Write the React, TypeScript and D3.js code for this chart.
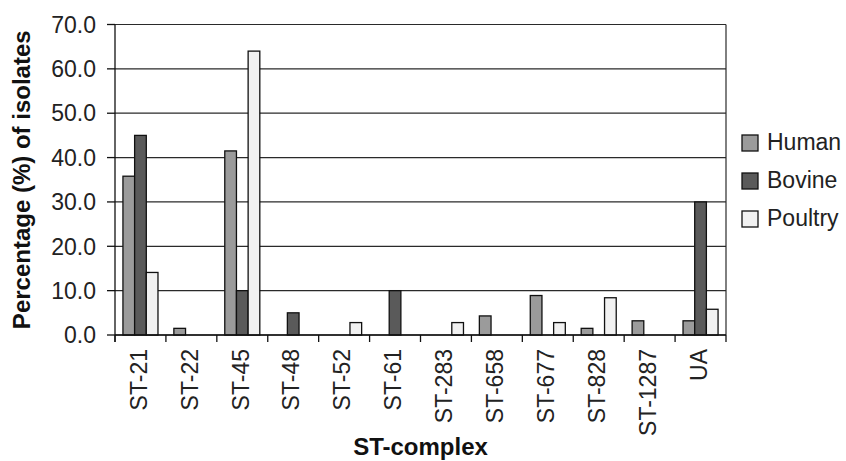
import React from 'react';
import * as d3 from 'd3';

// ST-complex categories and percentages
const categories = ['ST-21', 'ST-22', 'ST-45', 'ST-48', 'ST-52', 'ST-61', 'ST-283', 'ST-658', 'ST-677', 'ST-828', 'ST-1287', 'UA'];
const human = [35.8, 1.5, 41.5, 0, 0, 0, 0, 4.3, 8.9, 1.5, 3.2, 3.2];
const bovine = [45.0, 0, 10.0, 5.0, 0, 10.0, 0, 0, 0, 0, 0, 30.0];
const poultry = [14.1, 0, 64.0, 0, 2.8, 0, 2.8, 0, 2.8, 8.4, 0, 5.8];
const seriesNames = ['Human', 'Bovine', 'Poultry'];
const seriesColors = ['#9b9b9b', '#5a5a5a', '#f1f1f1'];
const yTicks = [0, 10, 20, 30, 40, 50, 60, 70];

const width = 846;
const height = 461;
const margin = { top: 24.5, right: 120, bottom: 126, left: 115 };
const font = '"Liberation Sans", Arial, sans-serif';

const App: React.FC = () => {
  const innerW = width - margin.left - margin.right;
  const innerH = height - margin.top - margin.bottom;

  const x = d3.scaleBand<string>()
    .domain(categories)
    .range([margin.left, margin.left + innerW])
    .paddingInner(0)
    .paddingOuter(0);

  const x1 = d3.scaleBand<string>()
    .domain(seriesNames)
    .range([0, x.bandwidth()])
    .paddingOuter(0.68)
    .paddingInner(0);

  const y = d3.scaleLinear()
    .domain([0, 70])
    .range([margin.top + innerH, margin.top]);

  const series = [human, bovine, poultry];
  const bottom = y(0);
  const right = margin.left + innerW;

  // category boundaries for x tick marks
  const boundaries = categories.map(c => x(c) as number).concat([right]);

  return (
    <svg
      width={width}
      height={height}
      style={{ position: 'absolute', left: 0, top: 0, background: '#fff' }}
      fontFamily={font}
    >
      {/* gridlines */}
      {yTicks.map(t => (
        <line key={'g' + t} x1={margin.left} x2={right} y1={y(t)} y2={y(t)}
          stroke="#2a2a2a" strokeWidth={1.2} />
      ))}
      {/* right border */}
      <line x1={right} x2={right} y1={y(70)} y2={bottom} stroke="#2a2a2a" strokeWidth={1.2} />

      {/* bars */}
      {categories.map((c, i) => (
        <g key={c} transform={`translate(${x(c)},0)`}>
          {series.map((s, k) => s[i] > 0 ? (
            <rect key={k}
              x={x1(seriesNames[k])}
              y={y(s[i])}
              width={x1.bandwidth()}
              height={bottom - y(s[i])}
              fill={seriesColors[k]}
              stroke="#111"
              strokeWidth={1.3} />
          ) : null)}
        </g>
      ))}

      {/* y axis */}
      <line x1={margin.left} x2={margin.left} y1={y(70)} y2={bottom + 7} stroke="#111" strokeWidth={1.3} />
      {yTicks.map(t => (
        <g key={'t' + t}>
          <line x1={margin.left - 8} x2={margin.left} y1={y(t)} y2={y(t)} stroke="#111" strokeWidth={1.3} />
          <text x={96} y={y(t)} dy="0.36em" textAnchor="end" fontSize={23} fill="#222">
            {d3.format('.1f')(t)}
          </text>
        </g>
      ))}

      {/* x axis */}
      <line x1={margin.left} x2={right} y1={bottom} y2={bottom} stroke="#111" strokeWidth={1.3} />
      {boundaries.map((b, i) => (
        <line key={'b' + i} x1={b} x2={b} y1={bottom} y2={bottom + 7} stroke="#111" strokeWidth={1.3} />
      ))}
      {categories.map(c => (
        <text key={'l' + c}
          transform={`translate(${(x(c) as number) + x.bandwidth() / 2 - 2},${bottom + 14}) rotate(-90)`}
          dy="0.36em" textAnchor="end" fontSize={23} fill="#222">
          {c}
        </text>
      ))}

      {/* axis titles */}
      <text x={(margin.left + right) / 2} y={455} textAnchor="middle" fontSize={24} fontWeight="bold" fill="#111">
        ST-complex
      </text>
      <text transform={`translate(30,${(y(0) + y(70)) / 2}) rotate(-90)`} textAnchor="middle"
        fontSize={24} fontWeight="bold" fill="#111">
        Percentage (%) of isolates
      </text>

      {/* legend */}
      {seriesNames.map((n, k) => (
        <g key={n} transform={`translate(742,${135 + k * 38})`}>
          <rect x={0} y={0} width={16} height={16} fill={seriesColors[k]} stroke="#111" strokeWidth={1.3} />
          <text x={25} y={15} fontSize={23} fill="#222">{n}</text>
        </g>
      ))}
    </svg>
  );
};

export default App;
